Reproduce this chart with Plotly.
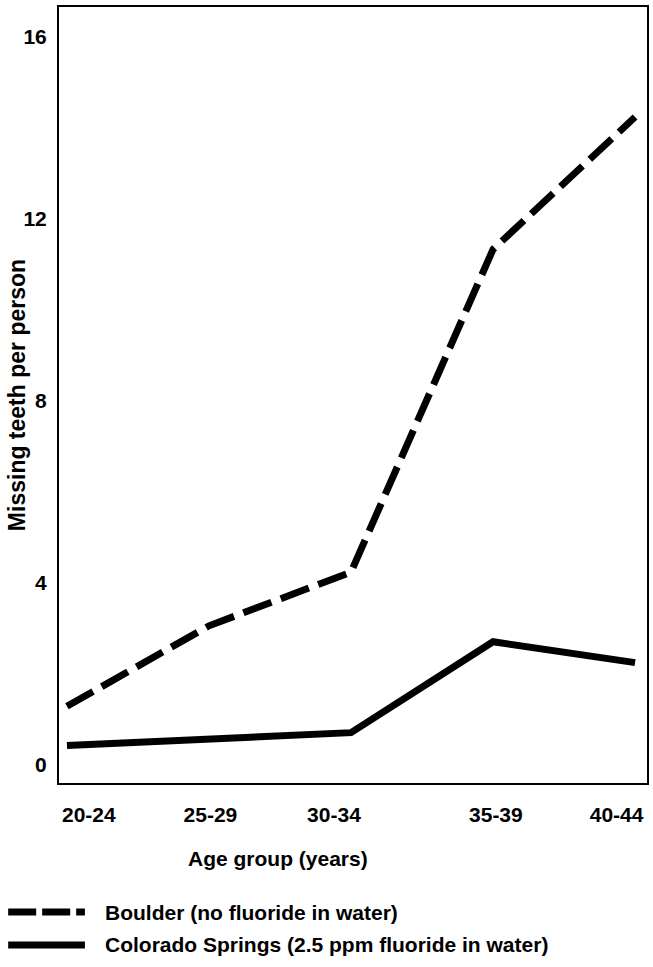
import plotly.graph_objects as go

age_groups = ["20-24", "25-29", "30-34", "35-39", "40-44"]
boulder = [1.28, 3.05, 4.23, 11.33, 14.24]
colorado_springs = [0.42, 0.55, 0.70, 2.70, 2.24]
y_ticks = [0, 4, 8, 12, 16]

series_names = ["Boulder (no fluoride in water)",
                "Colorado Springs (2.5 ppm fluoride in water)"]

FONT = dict(family="Liberation Sans, Arial, sans-serif", size=21, color="black", weight="bold")
TITLE_FONT = dict(FONT, size=23)

xs = list(range(len(age_groups)))

fig = go.Figure()
fig.add_trace(go.Scatter(x=xs, y=boulder, mode="lines", name=series_names[0],
                         line=dict(color="black", width=7, dash="30px,10px"),
                         showlegend=False))
fig.add_trace(go.Scatter(x=xs, y=colorado_springs, mode="lines", name=series_names[1],
                         line=dict(color="black", width=7),
                         showlegend=False))

# tick label placement as in the original (first/last kept inside the frame)
tick_shift = [0.154, 0.01, -0.12, 0.02, -0.13]
tickvals = [i + s for i, s in zip(xs, tick_shift)]

fig.update_xaxes(range=[-0.056, 4.084], tickmode="array", tickvals=tickvals,
                 ticktext=age_groups, ticks="", showgrid=False, zeroline=False,
                 showline=True, linecolor="black", linewidth=2, mirror=True,
                 tickfont=FONT, ticklabelstandoff=12)
fig.update_yaxes(range=[-0.407, 16.66], tickmode="array", tickvals=y_ticks,
                 ticks="", showgrid=False, zeroline=False,
                 showline=True, linecolor="black", linewidth=2, mirror=True,
                 tickfont=FONT, ticklabelstandoff=6)

annotations = [
    dict(text="Age group (years)", xref="paper", yref="paper",
         x=(279 - 59) / 590, y=-(858 - 783) / 776, xanchor="center", yanchor="middle",
         showarrow=False, font=FONT),
    dict(text="Missing teeth per person", xref="paper", yref="paper",
         x=-(59 - 17) / 590, y=0.5, xanchor="center", yanchor="middle",
         textangle=-90, showarrow=False, font=TITLE_FONT),
]
shapes = []
legend_rows = [(912, "28px,6px"), (945, "solid")]
for (py, dash), name in zip(legend_rows, series_names):
    yp = -(py - 783) / 776
    shapes.append(dict(type="line", xref="paper", yref="paper",
                       x0=(8 - 59) / 590, x1=(85 - 59) / 590, y0=yp, y1=yp,
                       line=dict(color="black", width=7, dash=dash)))
    annotations.append(dict(text=name, xref="paper", yref="paper",
                            x=(103 - 59) / 590, y=yp, xanchor="left", yanchor="middle",
                            showarrow=False, font=FONT))

fig.update_layout(width=653, height=967, margin=dict(l=59, r=4, t=7, b=184),
                  plot_bgcolor="white", paper_bgcolor="white",
                  annotations=annotations, shapes=shapes, showlegend=False)

fig.write_html("out.html", config={"displayModeBar": False},
               post_script="document.body.style.margin='0';document.body.style.overflow='hidden';")
